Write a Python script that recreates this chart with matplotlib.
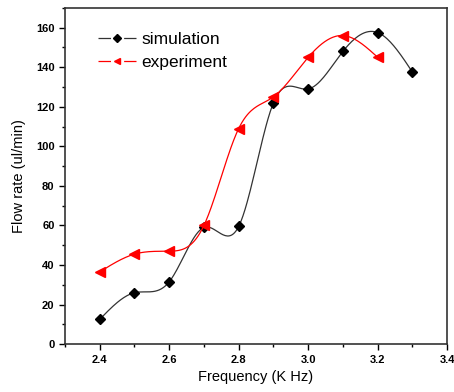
import numpy as np
import matplotlib.pyplot as plt

freq_sim = [2.4, 2.5, 2.6, 2.7, 2.8, 2.9, 3.0, 3.1, 3.2, 3.3]
flow_sim = [12.5, 26, 31.5, 59, 59.5, 122, 129, 148, 157.5, 137.5]
freq_exp = [2.4, 2.5, 2.6, 2.7, 2.8, 2.9, 3.0, 3.1, 3.2]
flow_exp = [36.5, 45.5, 47, 60, 109, 125, 145, 156, 145]


def spline(x, y, n=300):
    # natural cubic spline, only for the smooth connecting line
    x = np.asarray(x, float)
    y = np.asarray(y, float)
    m = len(x)
    h = np.diff(x)
    A = np.zeros((m, m))
    b = np.zeros(m)
    A[0, 0] = A[-1, -1] = 1
    for i in range(1, m - 1):
        A[i, i - 1] = h[i - 1]
        A[i, i] = 2 * (h[i - 1] + h[i])
        A[i, i + 1] = h[i]
        b[i] = 3 * ((y[i + 1] - y[i]) / h[i] - (y[i] - y[i - 1]) / h[i - 1])
    c = np.linalg.solve(A, b)
    xs = np.linspace(x[0], x[-1], n)
    idx = np.clip(np.searchsorted(x, xs) - 1, 0, m - 2)
    dx = xs - x[idx]
    bb = (y[idx + 1] - y[idx]) / h[idx] - h[idx] * (2 * c[idx] + c[idx + 1]) / 3
    dd = (c[idx + 1] - c[idx]) / (3 * h[idx])
    ys = y[idx] + bb * dx + c[idx] * dx ** 2 + dd * dx ** 3
    return xs, ys


plt.rcParams['font.family'] = ['Liberation Sans', 'DejaVu Sans']

fig = plt.figure(figsize=(4.54, 3.92), dpi=100)
ax = fig.add_axes([0.143, 0.122, 0.842, 0.858])

xs, ys = spline(freq_sim, flow_sim)
ax.plot(xs, ys, color="#333333", lw=0.9)
ax.plot(freq_sim, flow_sim, "D", color="black", ms=5.5, ls="none")
xs, ys = spline(freq_exp, flow_exp)
ax.plot(xs, ys, color="red", lw=0.9)
ax.plot(freq_exp, flow_exp, "<", color="red", ms=6.5, ls="none")

# legend handles
ax.plot([], [], "-D", color="#333333", ms=4.5, lw=0.9, mfc="black", mec="black", label="simulation")
ax.plot([], [], "-<", color="red", ms=5, lw=0.9, label="experiment")
leg = ax.legend(loc="upper left", frameon=False, fontsize=12.5, handlelength=2.2,
                bbox_to_anchor=(0.045, 0.975), labelspacing=0.45, handletextpad=0.3)
for ln in leg.get_lines():
    ln.set_linestyle((0, (10, 10.5)))

ax.set_xlim(2.3, 3.4)
ax.set_ylim(0, 170)
ax.set_xticks(np.arange(2.4, 3.41, 0.2))
ax.set_xticks(np.arange(2.3, 3.41, 0.1), minor=True)
ax.set_yticks(np.arange(0, 161, 20))
ax.set_yticks(np.arange(10, 171, 20), minor=True)
ax.set_xticklabels(["%.1f" % v for v in np.arange(2.4, 3.41, 0.2)])
ax.tick_params(axis="both", which="major", length=4, width=1, labelsize=8)
ax.tick_params(axis="both", which="minor", length=2.5, width=1)
for lab in ax.get_xticklabels() + ax.get_yticklabels():
    lab.set_fontweight("bold")
for s in ax.spines.values():
    s.set_linewidth(1.2)
    s.set_color("#333333")

ax.set_xlabel("Frequency (K Hz)", fontsize=10.5)
ax.set_ylabel("Flow rate (ul/min)", fontsize=10.5, labelpad=7)

fig.savefig("out.png", dpi=100)
